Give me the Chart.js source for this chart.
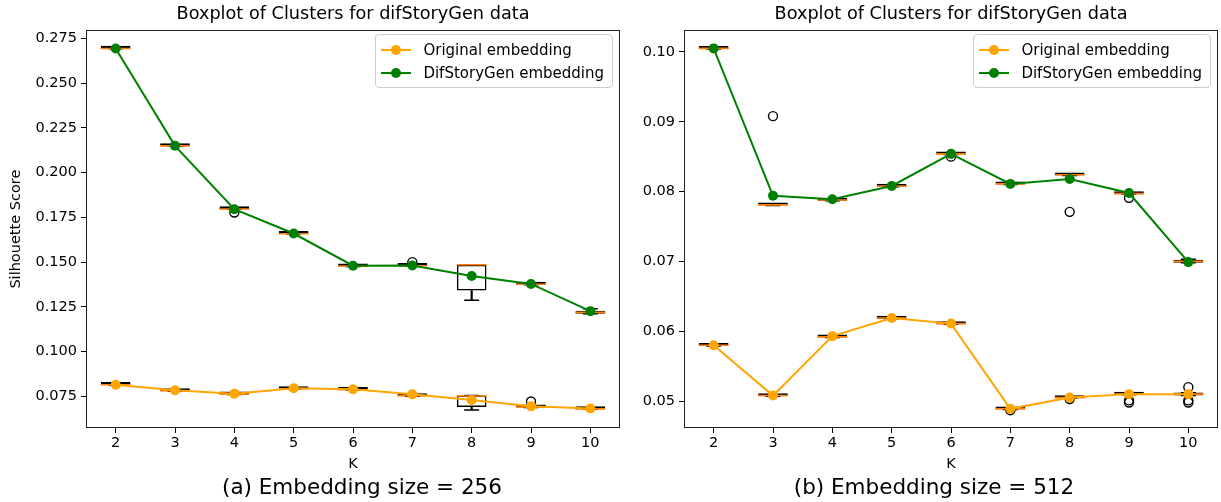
<!DOCTYPE html>
<html>
<head>
<meta charset="utf-8">
<title>Boxplot of Clusters for difStoryGen data</title>
<script src="https://cdn.jsdelivr.net/npm/chart.js@4.4.1/dist/chart.umd.min.js"></script>
<style>
  html, body { margin: 0; padding: 0; background: #fff; }
  body { width: 1221px; height: 502px; position: relative; overflow: hidden; font-family: 'DejaVu Sans', sans-serif; }
  .panel { position: absolute; top: 0; height: 502px; }
  #panel256 { left: 0; width: 630px; }
  #panel512 { left: 630px; width: 591px; }
  .caption { position: absolute; top: 475px; width: 400px; text-align: center; font-size: 21.5px; line-height: 24px; color: #000; }
  .mpl-legend { position: absolute; z-index: 2; border: 1px solid #ccc; border-radius: 4px; background: rgba(255,255,255,0.8); padding: 4px 8px 3px 5px; font-size: 15px; color: #000; }
  .mpl-legend .row { display: flex; align-items: center; height: 22.5px; white-space: nowrap; }
  .mpl-legend .handle { position: relative; width: 30px; height: 22px; margin-right: 12px; flex: none; }
  .mpl-legend .hline { position: absolute; left: 0; right: 0; top: 10px; height: 2px; }
  .mpl-legend .hdot { position: absolute; left: 10px; top: 6px; width: 10px; height: 10px; border-radius: 50%; }
</style>
</head>
<body>
<div class="panel" id="panel256">
  <canvas id="chart256"></canvas>
  <div class="mpl-legend" id="legend256"></div>
</div>
<div class="panel" id="panel512">
  <canvas id="chart512"></canvas>
  <div class="mpl-legend" id="legend512"></div>
</div>
<div class="caption" style="left:162px">(a) Embedding size = 256</div>
<div class="caption" style="left:734px">(b) Embedding size = 512</div>

<script>
var K_LABELS = ['2', '3', '4', '5', '6', '7', '8', '9', '10'];

// ---- embedding size 256 ----
var Y_TICKS_256 = [0.075, 0.100, 0.125, 0.150, 0.175, 0.200, 0.225, 0.250, 0.275];
var Y_RANGE_256 = [0.0573, 0.2796];

var ORIG_MEAN_256 = [0.0815, 0.0784, 0.0765, 0.0795, 0.0790, 0.0761, 0.0729, 0.0694, 0.0682];
var ORIG_Q1_256   = [0.0813, 0.0779, 0.0760, 0.0790, 0.0785, 0.0751, 0.0691, 0.0688, 0.0678];
var ORIG_MED_256  = [0.0815, 0.0781, 0.0762, 0.0792, 0.0787, 0.0754, 0.0752, 0.0690, 0.0680];
var ORIG_Q3_256   = [0.0816, 0.0782, 0.0764, 0.0793, 0.0789, 0.0756, 0.0754, 0.0692, 0.0681];
var ORIG_WLO_256  = [0.0813, 0.0779, 0.0760, 0.0790, 0.0785, 0.0751, 0.0674, 0.0688, 0.0678];
var ORIG_WHI_256  = [0.0816, 0.0782, 0.0764, 0.0793, 0.0789, 0.0756, 0.0754, 0.0692, 0.0681];
var ORIG_OUT_256  = [['9', 0.0721]];

var DIF_MEAN_256 = [0.2694, 0.2150, 0.1796, 0.1660, 0.1480, 0.1481, 0.1422, 0.1378, 0.1226];
var DIF_Q1_256   = [0.2692, 0.2148, 0.1795, 0.1657, 0.1476, 0.1478, 0.1341, 0.1374, 0.1212];
var DIF_MED_256  = [0.2694, 0.2150, 0.1797, 0.1659, 0.1478, 0.1480, 0.1485, 0.1376, 0.1219];
var DIF_Q3_256   = [0.2696, 0.2152, 0.1799, 0.1661, 0.1480, 0.1482, 0.1486, 0.1378, 0.1227];
var DIF_WLO_256  = [0.2692, 0.2148, 0.1795, 0.1657, 0.1476, 0.1478, 0.1287, 0.1374, 0.1212];
var DIF_WHI_256  = [0.2696, 0.2152, 0.1799, 0.1661, 0.1480, 0.1482, 0.1486, 0.1378, 0.1240];
var DIF_OUT_256  = [['4', 0.1777], ['7', 0.1500]];

// ---- embedding size 512 ----
var Y_TICKS_512 = [0.05, 0.06, 0.07, 0.08, 0.09, 0.10];
var Y_RANGE_512 = [0.04615, 0.1031];

var ORIG_MEAN_512 = [0.0580, 0.0508, 0.0593, 0.0619, 0.0611, 0.0489, 0.0505, 0.0510, 0.0510];
var ORIG_Q1_512   = [0.0579, 0.0507, 0.0591, 0.0618, 0.0610, 0.0488, 0.0504, 0.0509, 0.0508];
var ORIG_MED_512  = [0.0580, 0.0508, 0.0592, 0.0619, 0.0611, 0.0489, 0.0505, 0.0510, 0.0510];
var ORIG_Q3_512   = [0.0581, 0.0509, 0.0593, 0.0620, 0.0612, 0.0490, 0.0506, 0.0511, 0.0512];
var ORIG_WLO_512  = [0.0579, 0.0507, 0.0591, 0.0618, 0.0610, 0.0488, 0.0504, 0.0509, 0.0508];
var ORIG_WHI_512  = [0.0581, 0.0509, 0.0593, 0.0620, 0.0612, 0.0490, 0.0506, 0.0511, 0.0512];
var ORIG_OUT_512  = [['7', 0.0487], ['8', 0.0503], ['9', 0.0501], ['9', 0.0498],
                     ['10', 0.0520], ['10', 0.0501], ['10', 0.0498]];

var DIF_MEAN_512 = [0.1005, 0.0794, 0.0789, 0.0808, 0.0854, 0.0811, 0.0818, 0.0798, 0.0699];
var DIF_Q1_512   = [0.1004, 0.0780, 0.0787, 0.0807, 0.0853, 0.0810, 0.0823, 0.0796, 0.0698];
var DIF_MED_512  = [0.1005, 0.0781, 0.0788, 0.0808, 0.0854, 0.0811, 0.0824, 0.0797, 0.0700];
var DIF_Q3_512   = [0.1006, 0.0782, 0.0789, 0.0809, 0.0855, 0.0812, 0.0825, 0.0798, 0.0702];
var DIF_WLO_512  = [0.1004, 0.0780, 0.0787, 0.0807, 0.0853, 0.0810, 0.0823, 0.0796, 0.0698];
var DIF_WHI_512  = [0.1006, 0.0782, 0.0789, 0.0809, 0.0855, 0.0812, 0.0825, 0.0798, 0.0703];
var DIF_OUT_512  = [['3', 0.0908], ['6', 0.0850], ['8', 0.0771], ['9', 0.0791]];

var TITLE = 'Boxplot of Clusters for difStoryGen data';
var MEDIAN_COLOR = '#ff7f0e';
var ORIG_COLOR = '#FFA500';
var DIF_COLOR = '#008000';

Chart.defaults.font.family = "'DejaVu Sans', sans-serif";
Chart.defaults.color = '#000';

// matplotlib-like legend in an html box, top right of the plot area
var htmlLegendPlugin = {
  id: 'htmlLegend',
  afterUpdate: function(chart, args, opts) {
    var box = document.getElementById(opts.containerId);
    if (!box) return;
    box.innerHTML = '';
    chart.data.datasets.forEach(function(ds) {
      if (!ds.legendEntry) return;
      var row = document.createElement('div');
      row.className = 'row';
      var handle = document.createElement('span');
      handle.className = 'handle';
      var line = document.createElement('span');
      line.className = 'hline';
      line.style.background = ds.borderColor;
      var dot = document.createElement('span');
      dot.className = 'hdot';
      dot.style.background = ds.pointBackgroundColor;
      handle.appendChild(line);
      handle.appendChild(dot);
      var text = document.createElement('span');
      text.textContent = ds.label;
      row.appendChild(handle);
      row.appendChild(text);
      box.appendChild(row);
    });
    var area = chart.chartArea;
    box.style.right = (chart.width - area.right + 7) + 'px';
    box.style.top = (area.top + 4) + 'px';
  }
};

// full box around the axes (spines)
var axesFramePlugin = {
  id: 'axesFrame',
  afterDraw: function(chart) {
    var a = chart.chartArea;
    var ctx = chart.ctx;
    ctx.save();
    ctx.strokeStyle = '#222';
    ctx.lineWidth = 1;
    ctx.strokeRect(Math.round(a.left) + 0.5, Math.round(a.top) + 0.5,
                   Math.round(a.right - a.left) - 1, Math.round(a.bottom - a.top) - 1);
    ctx.restore();
  }
};

function boxDatasets(q1, med, q3, wlo, whi, outliers) {
  return [
    {
      type: 'bar',
      data: q1.map(function(v, i) { return [v, q3[i]]; }),
      backgroundColor: 'rgba(0,0,0,0)',
      borderColor: '#000',
      borderWidth: 1.5,
      borderSkipped: false,
      minBarLength: 3,
      grouped: false,
      barPercentage: 0.5,
      categoryPercentage: 1,
      order: 6
    },
    {
      type: 'bar',
      data: wlo.map(function(v, i) { return [v, q1[i]]; }),
      backgroundColor: '#000',
      borderWidth: 0,
      barThickness: 1.5,
      grouped: false,
      order: 6
    },
    {
      type: 'bar',
      data: q3.map(function(v, i) { return [v, whi[i]]; }),
      backgroundColor: '#000',
      borderWidth: 0,
      barThickness: 1.5,
      grouped: false,
      order: 6
    },
    {
      type: 'line',
      data: wlo,
      showLine: false,
      pointStyle: 'line',
      pointRadius: 7.5,
      pointBorderColor: '#000',
      pointBorderWidth: 1.5,
      order: 6
    },
    {
      type: 'line',
      data: whi,
      showLine: false,
      pointStyle: 'line',
      pointRadius: 7.5,
      pointBorderColor: '#000',
      pointBorderWidth: 1.5,
      order: 6
    },
    {
      type: 'line',
      data: med,
      showLine: false,
      pointStyle: 'line',
      pointRadius: 15,
      pointBorderColor: MEDIAN_COLOR,
      pointBorderWidth: 1.6,
      order: 5
    },
    {
      type: 'line',
      data: outliers.map(function(o) { return { x: o[0], y: o[1] }; }),
      showLine: false,
      pointStyle: 'circle',
      pointRadius: 4.5,
      pointBackgroundColor: 'rgba(0,0,0,0)',
      pointBorderColor: '#000',
      pointBorderWidth: 1.4,
      order: 5
    }
  ];
}

function meanLine(label, values, color, order) {
  return {
    type: 'line',
    label: label,
    legendEntry: true,
    data: values,
    borderColor: color,
    backgroundColor: color,
    borderWidth: 2,
    tension: 0,
    pointRadius: 5,
    pointBorderWidth: 0,
    pointBackgroundColor: color,
    order: order
  };
}

function makeChart(canvasId, legendId, datasets, yTicks, yRange, decimals, yWidth, yTitle, padRight) {
  var ctx = document.getElementById(canvasId);
  return new Chart(ctx, {
    type: 'bar',
    data: {
      labels: K_LABELS,
      datasets: datasets
    },
    options: {
      responsive: true,
      maintainAspectRatio: false,
      animation: false,
      events: [],
      layout: {
        autoPadding: false,
        padding: { left: 0, right: padRight, top: 0, bottom: 27 }
      },
      plugins: {
        legend: { display: false },
        tooltip: { enabled: false },
        title: {
          display: true,
          text: TITLE,
          fullSize: false,
          color: '#000',
          font: { size: 17.7, weight: 'normal' },
          padding: { top: 4, bottom: 5 }
        },
        htmlLegend: { containerId: legendId }
      },
      scales: {
        x: {
          type: 'category',
          offset: true,
          grid: { offset: false, drawOnChartArea: false, tickLength: 5, color: '#000' },
          border: { display: false },
          ticks: { color: '#000', font: { size: 14.5 }, padding: 2, maxRotation: 0, autoSkip: false },
          title: { display: true, text: 'K', color: '#000', font: { size: 14.5 }, padding: { top: 0, bottom: 2 } },
          afterFit: function(scale) {
            scale.height = 47;
            scale.paddingLeft = 0;
            scale.paddingRight = 0;
          }
        },
        y: {
          type: 'linear',
          min: yRange[0],
          max: yRange[1],
          afterBuildTicks: function(scale) {
            scale.ticks = yTicks.map(function(v) { return { value: v }; });
          },
          afterFit: function(scale) { scale.width = yWidth; },
          grid: { drawOnChartArea: false, tickLength: 5, color: '#000' },
          border: { display: false },
          ticks: {
            color: '#000',
            font: { size: 14.5 },
            padding: 4,
            callback: function(v) { return Number(v).toFixed(decimals); }
          },
          title: {
            display: !!yTitle,
            text: yTitle || '',
            color: '#000',
            font: { size: 14.5 },
            padding: { top: 8, bottom: 0 }
          }
        }
      }
    },
    plugins: [htmlLegendPlugin, axesFramePlugin]
  });
}

var datasets256 = []
  .concat([meanLine('Original embedding', ORIG_MEAN_256, ORIG_COLOR, 3),
           meanLine('DifStoryGen embedding', DIF_MEAN_256, DIF_COLOR, 2)])
  .concat(boxDatasets(ORIG_Q1_256, ORIG_MED_256, ORIG_Q3_256, ORIG_WLO_256, ORIG_WHI_256, ORIG_OUT_256))
  .concat(boxDatasets(DIF_Q1_256, DIF_MED_256, DIF_Q3_256, DIF_WLO_256, DIF_WHI_256, DIF_OUT_256));

var datasets512 = []
  .concat([meanLine('Original embedding', ORIG_MEAN_512, ORIG_COLOR, 3),
           meanLine('DifStoryGen embedding', DIF_MEAN_512, DIF_COLOR, 2)])
  .concat(boxDatasets(ORIG_Q1_512, ORIG_MED_512, ORIG_Q3_512, ORIG_WLO_512, ORIG_WHI_512, ORIG_OUT_512))
  .concat(boxDatasets(DIF_Q1_512, DIF_MED_512, DIF_Q3_512, DIF_WLO_512, DIF_WHI_512, DIF_OUT_512));

makeChart('chart256', 'legend256', datasets256, Y_TICKS_256, Y_RANGE_256, 3, 86, 'Silhouette Score', 10);
makeChart('chart512', 'legend512', datasets512, Y_TICKS_512, Y_RANGE_512, 2, 54, null, 3);
</script>
</body>
</html>
